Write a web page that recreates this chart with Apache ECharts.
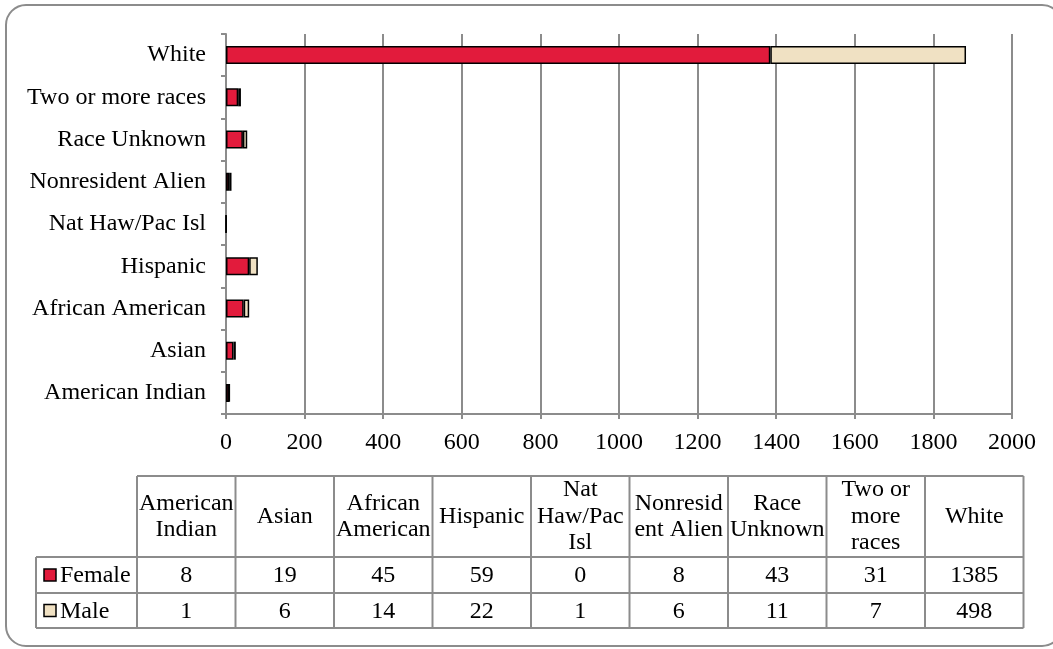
<!DOCTYPE html>
<html>
<head>
<meta charset="utf-8">
<script src="https://cdn.jsdelivr.net/npm/echarts@6/dist/echarts.min.js"></script>
<style>
  html, body { margin: 0; padding: 0; background: #fff; }
  #main_charts { width: 1053px; height: 649px; }
</style>
</head>
<body>
<div id="main_charts"></div>
<script>
  // data
  var races = ['American Indian', 'Asian', 'African American', 'Hispanic', 'Nat Haw/Pac Isl',
               'Nonresident Alien', 'Race Unknown', 'Two or more races', 'White'];
  var tableHeads = ['American\nIndian', 'Asian', 'African\nAmerican', 'Hispanic', 'Nat\nHaw/Pac\nIsl',
                    'Nonresid\nent Alien', 'Race\nUnknown', 'Two or\nmore\nraces', 'White'];
  var female = [8, 19, 45, 59, 0, 8, 43, 31, 1385];
  var male = [1, 6, 14, 22, 1, 6, 11, 7, 498];
  var seriesNames = ['Female', 'Male'];
  var seriesColors = ['#E21B3C', '#F0E1C3'];

  var font = 'Liberation Serif, Times New Roman, serif';
  var fs = 24;
  var grey = '#8c8c8c';

  var myChart = echarts.init(document.getElementById('main_charts'));

  // data table under the chart
  var tLeft = 36, tCol0 = 137, colW = 98.5;
  var tTop = 476, tHead = 557, tRow1 = 593, tBottom = 628;
  var tRight = tCol0 + colW * races.length;
  var g = [];

  // rounded frame (right edge runs off the picture)
  g.push({ type: 'rect', shape: { x: 6, y: 5, width: 1056, height: 641, r: 20 },
           style: { fill: null, stroke: grey, lineWidth: 2 }, z: 0 });

  function hline(y, x1, x2) {
    g.push({ type: 'line', shape: { x1: x1, y1: y, x2: x2, y2: y }, style: { stroke: grey, lineWidth: 2 } });
  }
  function vline(x, y1, y2) {
    g.push({ type: 'line', shape: { x1: x, y1: y1, x2: x, y2: y2 }, style: { stroke: grey, lineWidth: 2 } });
  }
  hline(tTop, tCol0, tRight);
  hline(tHead, tLeft, tRight);
  hline(tRow1, tLeft, tRight);
  hline(tBottom, tLeft, tRight);
  vline(tLeft, tHead, tBottom);
  for (var c = 0; c <= races.length; c++) {
    vline(tCol0 + colW * c, tTop, tBottom);
  }

  var rowVals = [female, male];
  var rowMid = [(tHead + tRow1) / 2, (tRow1 + tBottom) / 2];
  for (var c = 0; c < races.length; c++) {
    var cx = tCol0 + colW * c + colW / 2;
    g.push({ type: 'text', x: cx, y: (tTop + tHead) / 2,
             style: { text: tableHeads[c], font: fs + 'px ' + font, fill: '#000',
                      align: 'center', verticalAlign: 'middle', lineHeight: 26.5 } });
    for (var r = 0; r < 2; r++) {
      g.push({ type: 'text', x: cx, y: rowMid[r] + 1,
               style: { text: String(rowVals[r][c]), font: fs + 'px ' + font, fill: '#000',
                        align: 'center', verticalAlign: 'middle' } });
    }
  }
  for (var r = 0; r < 2; r++) {
    g.push({ type: 'rect', shape: { x: 44, y: rowMid[r] - 6, width: 12, height: 12 },
             style: { fill: seriesColors[r], stroke: '#000', lineWidth: 1.5 } });
    g.push({ type: 'text', x: 60, y: rowMid[r] + 1,
             style: { text: seriesNames[r], font: fs + 'px ' + font, fill: '#000',
                      align: 'left', verticalAlign: 'middle' } });
  }

  var option = {
    animation: false,
    backgroundColor: '#fff',
    grid: { left: 226, right: 41, top: 34, bottom: 235, containLabel: false },
    xAxis: {
      type: 'value',
      min: 0,
      max: 2000,
      interval: 200,
      axisLine: { show: true, lineStyle: { color: grey, width: 2 } },
      axisTick: { show: true, length: 5, lineStyle: { color: grey, width: 2 } },
      axisLabel: { color: '#000', fontFamily: font, fontSize: fs, margin: 17,
                   formatter: function (v) { return String(v); } },
      splitLine: { show: true, lineStyle: { color: grey, width: 2 } }
    },
    yAxis: {
      type: 'category',
      data: races,
      axisLine: { show: true, lineStyle: { color: grey, width: 2 } },
      axisTick: { show: true, length: 5, lineStyle: { color: grey, width: 2 } },
      axisLabel: { color: '#000', fontFamily: font, fontSize: fs, margin: 20 },
      splitLine: { show: false }
    },
    series: [
      {
        name: seriesNames[0], type: 'bar', stack: 'total', data: female, barWidth: 18,
        itemStyle: { color: seriesColors[0], borderColor: '#000', borderWidth: 1.5 }
      },
      {
        name: seriesNames[1], type: 'bar', stack: 'total', data: male, barWidth: 18,
        itemStyle: { color: seriesColors[1], borderColor: '#000', borderWidth: 1.5 }
      }
    ],
    graphic: g
  };
  myChart.setOption(option);
</script>
</body>
</html>
